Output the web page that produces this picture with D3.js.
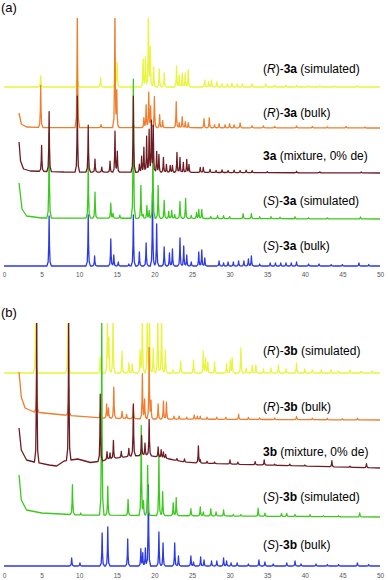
<!DOCTYPE html>
<html><head><meta charset="utf-8">
<script src="https://cdn.jsdelivr.net/npm/d3@7/dist/d3.min.js"></script>
<style>
html,body{margin:0;padding:0;background:#fff;}
svg{display:block;}
.lbl{font-family:"Liberation Sans",Arial,sans-serif;font-size:12px;fill:#000;}
.tick text{font-family:"Liberation Sans",Arial,sans-serif;font-size:6.5px;fill:#555;}
.pl{font-family:"Liberation Sans",Arial,sans-serif;font-size:13px;fill:#000;}
</style></head>
<body>
<div id="chart"></div>
<script>
// ---------- DATA ----------
const xTicks = [0,5,10,15,20,25,30,35,40,45,50];

// Panel (a) — peaks as [2θ, intensity above background]
const yellowA = [[4.88,11],[9.75,22],[12.85,9],[14.8,29],[15.05,24],[18.5,28],[18.8,30],[19.2,75],[19.45,39],[19.9,20],[20.65,18],[21.3,14],[22.95,21],[23.3,12],[23.7,14],[24.1,14],[24.5,17],[26.7,7],[27.2,5],[27.6,7],[28.3,5],[29.0,3],[29.7,3],[30.3,4],[31.0,3],[31.7,3],[33.0,3],[34.8,3],[36.0,2],[37.5,2],[38.9,2],[40.5,1.5],[42,1.5],[44,1],[47,1.5]];
const orangeA = [[4.88,42],[9.75,120],[12.9,3],[14.75,120],[15.0,35],[17.2,4],[18.6,10],[18.9,23],[19.25,35],[19.5,21],[20.0,31],[20.7,13],[21.1,7],[22.9,26],[23.3,5],[23.7,11],[24.1,6],[24.5,5],[26.6,9],[27.3,10],[28.0,3],[28.6,4],[29.4,3],[30.0,4],[30.6,3],[31.4,5],[33.0,2],[34.5,2],[36,1.5],[38.9,2],[41,1.5],[43,1],[45.5,1.5],[48,1]];
const maroonA = [[5.0,26],[6.0,60],[9.75,76],[11.2,47],[12.1,13],[13.0,5],[14.1,11],[14.76,41],[15.07,21],[17.2,76],[18.0,8],[18.3,16],[18.6,25],[18.97,36],[19.3,43],[19.6,51],[19.85,46],[20.3,21],[20.6,18],[21.2,15],[21.6,8],[22.1,7],[22.4,7],[23.0,20],[23.4,15],[23.85,10],[24.3,13],[24.6,8],[26.1,5],[26.5,5],[27.4,3],[28.2,2],[29.0,2.5],[29.8,2],[30.6,2.5],[31.4,2],[32.2,2.5],[33.0,2],[35,1],[38.9,1.5],[42,1],[47.5,1]];
const greenA = [[6.0,85],[11.2,55],[12.1,26],[14.2,15],[14.5,5],[15.4,3],[17.2,139],[18.2,33],[18.5,4],[19.0,13],[19.3,8],[19.8,75],[20.5,33],[21.3,18],[21.9,7],[22.3,8],[22.7,4],[23.4,17],[24.15,20],[24.9,3],[25.6,6],[25.9,9],[26.3,9],[27.5,2],[28.4,3],[29.2,3],[30.0,2],[31.8,5],[32.9,5],[34.0,2],[35.5,2],[36.7,1.5],[38.7,2],[40.5,1],[43,1],[47.4,2]];
const blueA = [[6.0,50],[11.2,51],[12.05,10],[14.2,27],[14.6,11],[15.2,4],[16.6,2],[17.2,51],[18.0,14],[18.9,23],[19.75,73],[20.3,42],[21.3,19],[22.0,13],[22.4,17],[23.4,28],[23.9,20],[24.3,11],[24.9,4],[25.9,14],[26.3,16],[26.7,8],[28.6,5],[29.2,3],[29.8,4],[30.5,4],[31.2,5],[31.9,5],[32.5,7],[32.9,10],[34,2],[35.4,3],[36.1,3],[36.8,3],[37.5,3],[38.2,3],[38.9,4],[40.5,2],[41.9,2],[43.5,1.5],[45,1.5],[47.2,3],[48.5,1.5]];

// Panel (a) — backgrounds as [2θ, level]
const yellowBgA = [[0,0],[50,0]];
const orangeBgA = [[2,15],[2.3,4],[3,1],[5,0.5],[50,0]];
const maroonBgA = [[2,31],[2.2,12],[2.6,4],[3.5,2],[8,1],[50,0]];
const greenBgA  = [[2,36],[2.4,10],[3,3],[5,1],[50,0]];
const blueBgA   = [[0,0],[50,0]];

// Panel (b)
const yellowB = [[4.2,60],[8.5,60],[12.8,16],[13.75,60],[13.95,33],[14.5,60],[15.7,22],[16.6,10],[17.05,9],[18.1,23],[18.4,60],[19.05,60],[19.35,60],[19.85,25],[20.45,60],[20.95,60],[21.45,23],[22.5,3],[23.5,12],[25.2,13],[26.5,22],[26.8,15],[27.1,11],[28.0,11],[29.6,9],[30.1,13],[30.35,15],[31.5,25],[32.2,5],[33.0,8],[33.5,8],[34.5,4],[35.5,5],[36.5,8],[37.5,4],[38.9,10],[40,4],[41,3],[42.2,3],[43.5,3],[44.5,2],[46,3],[47.5,2],[49,2]];
const orangeB = [[4.35,40],[8.6,30],[12.8,5],[13.65,14],[13.9,10],[14.6,31],[15.7,7],[16.3,4],[17.2,12],[18.4,45],[18.7,20],[19.3,71],[19.55,17],[20.5,15],[21.2,18],[21.6,17],[22.6,3],[23.3,3],[24.3,2],[25.3,4],[25.7,3],[26.1,3],[27.0,2],[28.3,2],[29.5,2],[31.2,5],[32.5,2],[34,1.5],[36,1.5],[38.9,3],[41,1.5],[43,1.5],[45,1],[47,1.5]];
const maroonB = [[4.35,150],[8.6,150],[12.8,67],[13.7,8],[14.1,6],[14.55,18],[15.6,6],[16.6,8],[17.2,52],[18.3,20],[18.75,12],[19.3,36],[20.5,10],[20.9,8],[21.2,6],[21.5,4],[23.0,2],[24.0,3],[25.85,17],[26.1,3],[27.0,2],[28.0,1.5],[30.05,4],[31.1,2],[33.4,3],[34.6,5],[36,1],[38,1.5],[40,1],[43.6,6],[46,1],[48.2,4]];
const greenB = [[9.1,30],[10.2,2],[13.0,200],[13.8,29],[16.5,16],[18.25,90],[18.55,15],[19.1,50],[20.6,61],[21.1,24],[22.5,13],[22.9,18],[24.85,7],[26.1,9],[26.5,4],[27.5,7],[28.2,4],[29.2,6],[30.5,1.5],[31.5,1.5],[33.8,8],[34.7,3],[36.9,3],[37.6,3],[38.7,2],[40.7,2],[42.5,1],[44.5,1],[47.3,4]];
const blueB = [[9.0,8],[10.1,3],[13.05,33],[13.8,39],[16.45,27],[18.2,17],[18.45,13],[18.8,18],[19.2,81],[20.6,34],[21.15,23],[22.7,23],[23.2,10],[24.85,10],[25.2,4],[26.15,9],[26.6,6],[27.6,5],[28.3,5],[29.2,8],[29.6,5],[30.2,3],[31.0,3],[32.5,2],[33.9,6],[34.7,4],[35.8,2],[37.6,3],[38.7,5],[39.5,2],[41.5,2],[43,1.5],[44.5,1.5],[47.0,3],[48.5,1.5]];

const yellowBgB = [[0,0],[50,0]];
const orangeBgB = [[2,48],[2.3,23],[2.8,12],[4,8],[8,5],[13,2],[20,1],[50,0]];
const maroonBgB = [[2,40],[2.3,18],[3,8],[4,6],[6,3],[7,2],[8,7],[9.8,9],[11.5,5.5],[13,7],[14,9],[17,12],[19,13],[22,9],[24,6],[26,5],[30,4],[40,2],[50,0]];
const greenBgB  = [[2,42],[2.3,17],[3,7],[5,4],[10,2],[50,0]];
const blueBgB   = [[0,0],[50,0]];

// Series stacking offsets (intensity units)
const offsetsA = {yellow:179, orange:138, maroon:93, green:47, blue:0};
const offsetsB = {yellow:193, orange:146, maroon:98, green:49, blue:0};

// ---------- DRAWING ----------
const W = 388, H = 580;
const colors = {yellow:"#e8f53a", orange:"#ee7d2e", maroon:"#6d1c24", green:"#3dc81f", blue:"#2b39e6"};
const order = ["yellow","orange","blue","green","maroon"];

const svg = d3.select("#chart").append("svg").attr("width",W).attr("height",H);
const x = d3.scaleLinear().domain([0,50]).range([4,380]);

// peak shape template (relative 2θ offset, fraction of height)
const shapeDx = [-0.3,-0.13,-0.05,0,0.05,0.13,0.3];
const shapeF  = [0,0.08,0.4,1,0.4,0.08,0];
const shapeFn = d3.scaleLinear().domain(shapeDx).range(shapeF).clamp(true);

function buildSeries(peaks, bg){
  const bgFn = d3.scaleLinear().domain(bg.map(d=>d[0])).range(bg.map(d=>d[1])).clamp(true);
  const xmin = bg[0][0], xmax = bg[bg.length-1][0];
  let xs = bg.map(d=>d[0]);
  peaks.forEach(p=>shapeDx.forEach(dx=>xs.push(p[0]+dx)));
  xs = Array.from(new Set(xs.filter(v=>v>=xmin && v<=xmax))).sort((a,b)=>a-b);
  return xs.map(t=>{
    let v = bgFn(t);
    peaks.forEach(p=>{ const dx=t-p[0]; if (Math.abs(dx)<0.3) v += p[1]*shapeFn(dx); });
    return [t,v];
  });
}

function panel(cfg){
  const y = d3.scaleLinear().domain(cfg.domain).range(cfg.range);
  const clipId = "clip"+cfg.id;
  svg.append("clipPath").attr("id",clipId).append("rect")
    .attr("x",0).attr("y",cfg.range[1]).attr("width",W).attr("height",cfg.range[0]-cfg.range[1]+4);
  const g = svg.append("g").attr("clip-path",`url(#${clipId})`);
  order.forEach(k=>{
    const pts = buildSeries(cfg.peaks[k], cfg.bgs[k]);
    const line = d3.line().x(d=>x(d[0])).y(d=>y(d[1]+cfg.offsets[k]));
    g.append("path").attr("d",line(pts)).attr("fill","none")
      .attr("stroke",colors[k]).attr("stroke-width",1.3).attr("stroke-linejoin","round");
  });
  const ax = svg.append("g").attr("transform",`translate(0,${cfg.axisY})`)
    .call(d3.axisBottom(x).tickValues(xTicks).tickSize(0).tickPadding(3));
  ax.select(".domain").remove();
  cfg.labels.forEach(l=>{
    const t = svg.append("text").attr("class","lbl").attr("x",263).attr("y",l.y);
    l.parts.forEach(p=>{
      const s = t.append("tspan").text(p[0]);
      if (p[1]==="i") s.attr("font-style","italic");
      if (p[1]==="b") s.attr("font-weight","bold");
    });
  });
  svg.append("text").attr("class","pl").attr("x",1).attr("y",cfg.titleY).text(cfg.title);
}

const lab = (c, n, tail) => c ? [["("],[c,"i"],[")-"],[n,"b"],[tail]] : [[n,"b"],[tail]];

panel({
  id:"a", domain:[0,248], range:[266,18], axisY:269, title:"(a)", titleY:12,
  offsets:offsetsA,
  peaks:{yellow:yellowA, orange:orangeA, maroon:maroonA, green:greenA, blue:blueA},
  bgs:{yellow:yellowBgA, orange:orangeBgA, maroon:maroonBgA, green:greenBgA, blue:blueBgA},
  labels:[
    {y:73, parts:lab("R","3a"," (simulated)")},
    {y:117, parts:lab("R","3a"," (bulk)")},
    {y:160, parts:lab(null,"3a"," (mixture, 0% de)")},
    {y:205, parts:lab("S","3a"," (simulated)")},
    {y:250, parts:lab("S","3a"," (bulk)")}
  ]
});
panel({
  id:"b", domain:[0,243], range:[566,323], axisY:570.5, title:"(b)", titleY:317,
  offsets:offsetsB,
  peaks:{yellow:yellowB, orange:orangeB, maroon:maroonB, green:greenB, blue:blueB},
  bgs:{yellow:yellowBgB, orange:orangeBgB, maroon:maroonBgB, green:greenBgB, blue:blueBgB},
  labels:[
    {y:355, parts:lab("R","3b"," (simulated)")},
    {y:411, parts:lab("R","3b"," (bulk)")},
    {y:456, parts:lab(null,"3b"," (mixture, 0% de)")},
    {y:501, parts:lab("S","3b"," (simulated)")},
    {y:549, parts:lab("S","3b"," (bulk)")}
  ]
});
</script>
</body></html>
